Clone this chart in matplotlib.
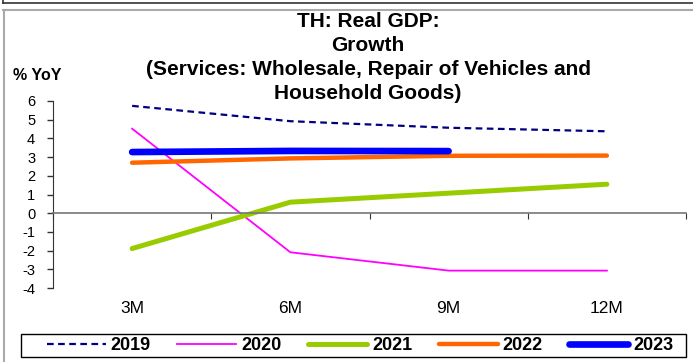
import numpy as np
import matplotlib
matplotlib.use('Agg')
import matplotlib.pyplot as plt
from matplotlib.lines import Line2D
from matplotlib.patches import Rectangle

plt.rcParams['font.family'] = ['Liberation Sans', 'DejaVu Sans']
plt.rcParams['axes.unicode_minus'] = False

# data
periods = ['3M', '6M', '9M', '12M']
y2019 = [5.74, 4.92, 4.57, 4.38]
y2020 = [4.52, -2.09, -3.07, -3.07]
y2021 = [-1.89, 0.59, 1.07, 1.55]
y2022 = [2.70, 2.93, 3.07, 3.08]
y2023 = [3.27, 3.33, 3.32]
yticks = [6, 5, 4, 3, 2, 1, 0, -1, -2, -3, -4]

W, H = 693, 362
fig = plt.figure(figsize=(W / 100, H / 100), dpi=100)
ax = fig.add_axes([53 / W, 1 - 288 / H, (686 - 53) / W, (288 - 101) / H])

x = np.arange(len(periods))
ax.plot(x, y2019, color='#000080', lw=1.6, ls=(0, (3, 2)), label='2019')
ax.plot(x, y2020, color='#FF00FF', lw=1.3, label='2020')
ax.plot(x, y2021, color='#99CC00', lw=3.6, solid_capstyle='round', label='2021')
ax.plot(x, y2022, color='#FF6600', lw=3.2, solid_capstyle='round', label='2022')
ax.plot(x[:len(y2023)], y2023, color='#0000FF', lw=4.8, solid_capstyle='round', label='2023')

ax.set_xlim(-0.5, len(periods) - 0.5)
ax.set_ylim(-4, 6)
ax.set_yticks(yticks)
ax.tick_params(axis='y', labelsize=10.5, length=4.3, width=1, color='#333333', pad=8.5)

# x axis sits at zero, labels below the plot
ax.spines['bottom'].set_position(('data', 0))
ax.spines['bottom'].set_color('#777777')
ax.spines['bottom'].set_linewidth(1.2)
ax.spines['left'].set_color('#333333')
ax.spines['top'].set_visible(False)
ax.spines['right'].set_visible(False)
ax.set_xticks(np.arange(len(periods) + 1) - 0.5)
ax.set_xticklabels([])
ax.tick_params(axis='x', which='major', direction='out', length=4, color='#333333')
for i, p in enumerate(periods):
    ax.text(i, -5.11, p, ha='center', va='center', fontsize=12.5, clip_on=False)

fig.text(368 / W, 1 - 12 / H, 'TH: Real GDP:\nGrowth\n(Services: Wholesale, Repair of Vehicles and\nHousehold Goods)',
         ha='center', va='top', fontsize=15, fontweight='bold', linespacing=1.34)
fig.text(13 / W, 1 - 75 / H, '% YoY', ha='left', va='center', fontsize=11.5, fontweight='bold')

leg = fig.legend(loc='center', bbox_to_anchor=(360 / W, 1 - 345.5 / H),
                 ncol=5, frameon=False, handlelength=3.27, handletextpad=0.28,
                 columnspacing=1.46, borderaxespad=0, borderpad=0,
                 prop={'weight': 'bold', 'size': 13})
fig.add_artist(Rectangle((20.7 / W, 1 - 356.7 / H), (686 - 20.7) / W, 22.4 / H,
                         transform=fig.transFigure, fill=False, edgecolor='black', lw=1))

# outer frame lines
fig.add_artist(Line2D([3 / W, 1], [1 - 3 / H, 1 - 3 / H], color='#333333', lw=1.2))
fig.add_artist(Line2D([3 / W, 3 / W], [1, 1 - 3 / H], color='#333333', lw=1.2))
fig.add_artist(Line2D([3 / W, 1], [1 - 10 / H, 1 - 10 / H], color='#aaaaaa', lw=1.5))
fig.add_artist(Line2D([3.5 / W, 3.5 / W], [0, 1 - 10 / H], color='#aaaaaa', lw=1.5))

fig.savefig('out.png', dpi=100)
